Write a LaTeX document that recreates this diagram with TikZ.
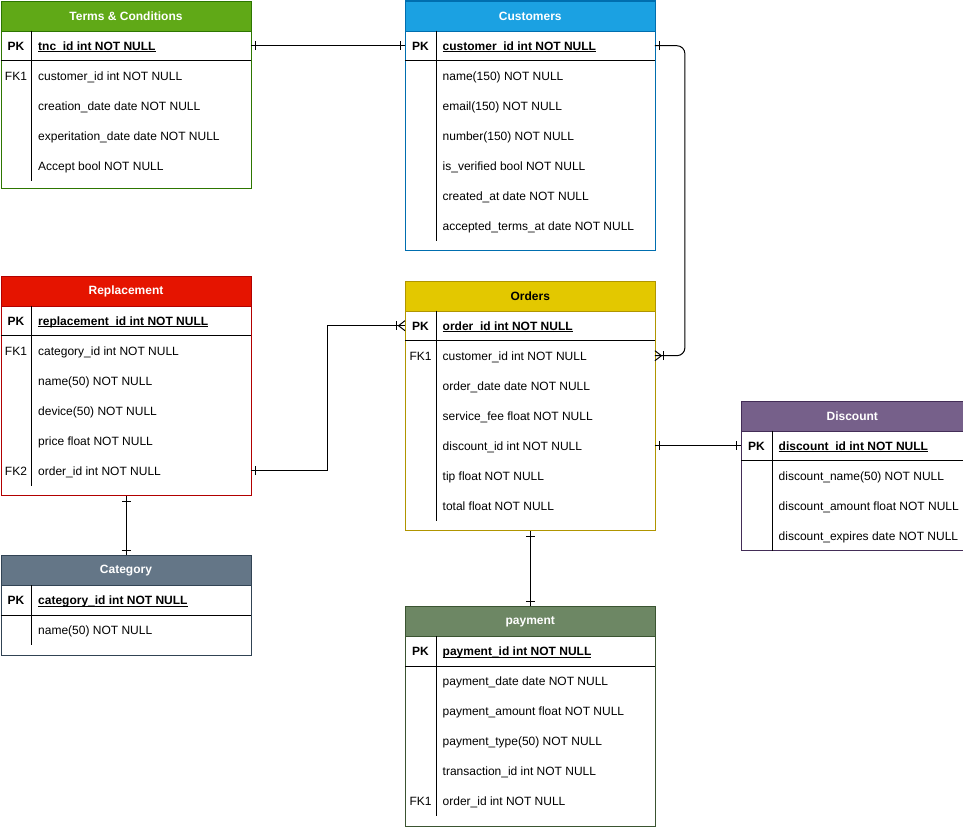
\documentclass[tikz,border=0pt]{standalone}
\usepackage{fontspec}
\setmainfont{Liberation Sans}
\usetikzlibrary{calc}
\definecolor{tncfill}{HTML}{60A917}\definecolor{tncline}{HTML}{2D7600}\definecolor{tnctext}{HTML}{FFFFFF}
\definecolor{cusfill}{HTML}{1BA1E2}\definecolor{cusline}{HTML}{006EAF}\definecolor{custext}{HTML}{FFFFFF}
\definecolor{repfill}{HTML}{E51400}\definecolor{repline}{HTML}{B20000}\definecolor{reptext}{HTML}{FFFFFF}
\definecolor{ordfill}{HTML}{E3C800}\definecolor{ordline}{HTML}{B09500}\definecolor{ordtext}{HTML}{000000}
\definecolor{disfill}{HTML}{76608A}\definecolor{disline}{HTML}{432D57}\definecolor{distext}{HTML}{FFFFFF}
\definecolor{catfill}{HTML}{647687}\definecolor{catline}{HTML}{314354}\definecolor{cattext}{HTML}{FFFFFF}
\definecolor{payfill}{HTML}{6D8764}\definecolor{payline}{HTML}{3A5431}\definecolor{paytext}{HTML}{FFFFFF}
\newlength\ulw
\newcommand\pkul[1]{\settowidth\ulw{#1}\rlap{\rule[-2pt]{\ulw}{0.9pt}}#1}
\newcommand\ertable[9]{%
 \node[tablebox,draw=#6line,minimum width=#4,minimum height=#5] (#1) at (#2,#3) {};
 \node[headbox,fill=#6fill,draw=#6line,text=#6text,minimum width=#4] (#1-h) at (#2,#3) {#7};
 \node[rowbox,minimum width=#4] (#1-pk) at (#2,#3+30) {};
 \node[keytxt,font=\fontsize{12}{14}\selectfont\bfseries] (#1-pk-k) at ($(#1-pk.west)+(15.5,0)$) {PK};
 \node[fieldtxt,font=\fontsize{12}{14}\selectfont\bfseries] (#1-pk-t) at ($(#1-pk.west)+(37.5,0)$) {\pkul{#8}};
 \draw[innerline] (#1-pk.north west) ++(31,0) -- ++(0,30);
 \draw[innerline] (#1-pk.south west) -- (#1-pk.south east);
 \foreach \kee/\fld [count=\rn] in {#9} {
   \node[rowbox,minimum width=#4] (#1-\rn) at (#2,#3+30+30*\rn) {};
   \node[keytxt] (#1-\rn-k) at ($(#1-\rn.west)+(15.5,0)$) {\kee};
   \node[fieldtxt] (#1-\rn-t) at ($(#1-\rn.west)+(37.5,0)$) {\fld};
   \draw[innerline] (#1-\rn.north west) ++(31,0) -- ++(0,30);
 }%
}
\newcommand\onemark[3]{%
 \draw[conn] ($#1+({5*(#2)},{5*(#3)})+({4.5*(#3)},{4.5*(#2)})$) -- ($#1+({5*(#2)},{5*(#3)})-({4.5*(#3)},{4.5*(#2)})$);}
\newcommand\manymark[3]{%
 \draw[conn] ($#1+({8.5*(#2)},{8.5*(#3)})+({4.5*(#3)},{4.5*(#2)})$) -- ($#1+({8.5*(#2)},{8.5*(#3)})-({4.5*(#3)},{4.5*(#2)})$);
 \draw[conn] ($#1+({5*(#3)},{5*(#2)})$) -- ($#1+({6.5*(#2)},{6.5*(#3)})$) -- ($#1-({5*(#3)},{5*(#2)})$);}
\begin{document}
\begin{tikzpicture}[x=1pt,y=-1pt,
  tablebox/.style={rectangle,anchor=north west,inner sep=0pt,fill=white,line width=1pt},
  headbox/.style={rectangle,anchor=north west,inner sep=0pt,minimum height=30,line width=1pt,font=\fontsize{12}{14}\selectfont\bfseries},
  rowbox/.style={rectangle,anchor=north west,inner sep=0pt,minimum height=30},
  keytxt/.style={inner sep=0pt,anchor=center,text height=8.6pt,text depth=0pt,font=\fontsize{12}{14}\selectfont},
  fieldtxt/.style={inner sep=0pt,anchor=west,text height=8.6pt,text depth=0pt,font=\fontsize{12}{14}\selectfont},
  innerline/.style={draw=black,line width=1pt},
  conn/.style={draw=black,line width=1pt}]
\useasboundingbox (0,0) rectangle (963,827);

\ertable{tnc}{0.5}{0.5}{250}{187.5}{tnc}{Terms \& Conditions}{tnc\_id int NOT NULL}%
 {FK1/customer\_id int NOT NULL,{}/creation\_date date NOT NULL,{}/experitation\_date date NOT NULL,{}/Accept bool NOT NULL}

\ertable{cus}{405}{0.5}{249.5}{249.5}{cus}{Customers}{customer\_id int NOT NULL}%
 {{}/name(150) NOT NULL,{}/email(150) NOT NULL,{}/number(150) NOT NULL,{}/is\_verified bool NOT NULL,{}/created\_at date NOT NULL,{}/accepted\_terms\_at date NOT NULL}

\ertable{rep}{0.5}{275.5}{250}{219.5}{rep}{Replacement}{replacement\_id int NOT NULL}%
 {FK1/category\_id int NOT NULL,{}/name(50) NOT NULL,{}/device(50) NOT NULL,{}/price float NOT NULL,FK2/order\_id int NOT NULL}

\ertable{ord}{405}{280.5}{249.5}{249.5}{ord}{Orders}{order\_id int NOT NULL}%
 {FK1/customer\_id int NOT NULL,{}/order\_date date NOT NULL,{}/service\_fee float NOT NULL,{}/discount\_id int NOT NULL,{}/tip float NOT NULL,{}/total float NOT NULL}

\ertable{dis}{741}{400.5}{221.5}{149.5}{dis}{Discount}{discount\_id int NOT NULL}%
 {{}/discount\_name(50) NOT NULL,{}/discount\_amount float NOT NULL,{}/discount\_expires date NOT NULL}

\ertable{cat}{0.5}{555}{250}{99.5}{cat}{Category}{category\_id int NOT NULL}%
 {{}/name(50) NOT NULL}

\ertable{pay}{405}{606}{249.5}{220}{pay}{payment}{payment\_id int NOT NULL}%
 {{}/payment\_date date NOT NULL,{}/payment\_amount float NOT NULL,{}/payment\_type(50) NOT NULL,{}/transaction\_id int NOT NULL,FK1/order\_id int NOT NULL}

% connectors
\draw[conn] (tnc-pk.east) -- (cus-pk.west);
\onemark{(tnc-pk.east)}{1}{0}\onemark{(cus-pk.west)}{-1}{0}

\draw[conn,rounded corners=8] (cus-pk.east) -- ++(30,0) |- (ord-1.east);
\onemark{(cus-pk.east)}{1}{0}\manymark{(ord-1.east)}{1}{0}

\draw[conn] (rep-5.east) -| ($(rep-5.east)!0.5!(ord-pk.west)$) |- (ord-pk.west);
\onemark{(rep-5.east)}{1}{0}\manymark{(ord-pk.west)}{-1}{0}

\draw[conn] (ord-4.east) -- (dis-pk.west);
\onemark{(ord-4.east)}{1}{0}\onemark{(dis-pk.west)}{-1}{0}

\draw[conn] (rep.south) -- (cat.north);
\onemark{(rep.south)}{0}{1}\onemark{(cat.north)}{0}{-1}

\draw[conn] (ord.south) -- (pay.north);
\onemark{(ord.south)}{0}{1}\onemark{(pay.north)}{0}{-1}
\end{tikzpicture}
\end{document}
